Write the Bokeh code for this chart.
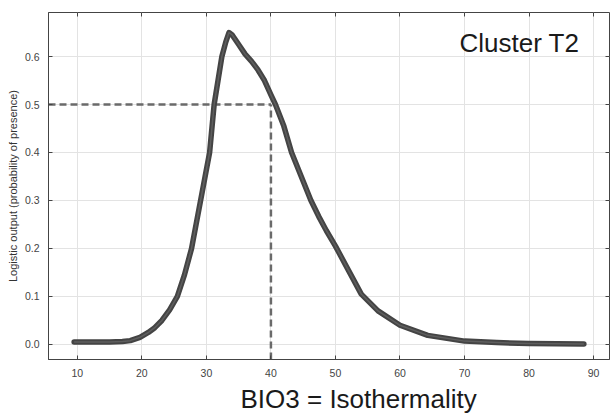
from bokeh.plotting import figure
from bokeh.models import (Range1d, FixedTicker, PrintfTickFormatter, LinearAxis, Label, Title,
                          CustomLabelingPolicy)
from bokeh.embed import file_html
from bokeh.resources import INLINE

# Response curve (BIO3 = Isothermality)
bio3 = [9.5, 12, 15, 17, 18.2, 19.7, 21, 22, 23.1, 24.3, 25.5, 26.6, 27.7, 28.4, 29.1, 29.8, 30.5,
        31.2, 31.8, 32.4, 33.0, 33.5, 34, 35, 36, 37, 38, 39, 40, 40.7, 42, 43.2, 44.7, 46.2,
        47.4, 48.6, 50, 52, 54, 56.6, 60, 64.3, 70, 75, 80, 88.5]
prob = [0.005, 0.005, 0.005, 0.006, 0.008, 0.015, 0.025, 0.035, 0.05, 0.072, 0.10, 0.145, 0.20, 0.25,
        0.30, 0.35, 0.40, 0.50, 0.55, 0.60, 0.63, 0.65, 0.645, 0.625, 0.605, 0.59, 0.572, 0.55, 0.52,
        0.50, 0.455, 0.40, 0.35, 0.30, 0.267, 0.237, 0.205, 0.155, 0.105, 0.07, 0.04, 0.019, 0.007,
        0.004, 0.002, 0.001]

threshold_x = 40
threshold_y = 0.5

x_ticks = [10, 20, 30, 40, 50, 60, 70, 80, 90]
y_ticks = [0.0, 0.1, 0.2, 0.3, 0.4, 0.5, 0.6]

x_start, x_end = 5.53, 92.47
y_start, y_end = -0.0313, 0.6917

SANS = "'Liberation Sans', Arial, sans-serif"

p = figure(width=613, height=419, output_backend="svg", toolbar_location=None,
           x_range=Range1d(x_start, x_end), y_range=Range1d(y_start, y_end),
           min_border_left=48, min_border_top=12, min_border_right=1, min_border_bottom=60)
p.background_fill_color = "white"
p.border_fill_color = "white"
p.outline_line_color = "#444444"
p.outline_line_width = 1

xt = FixedTicker(ticks=x_ticks, minor_ticks=[])
yt = FixedTicker(ticks=y_ticks, minor_ticks=[])

for ax in p.xaxis:
    ax.ticker = xt
    ax.major_tick_in = 4
    ax.major_tick_out = 0
    ax.minor_tick_line_color = None
    ax.axis_line_color = "#444444"
    ax.major_tick_line_color = "#444444"
    ax.major_label_text_font = SANS
    ax.major_label_text_font_size = "10.5px"
    ax.major_label_text_color = "#444444"
    ax.major_label_standoff = 9

for ax in p.yaxis:
    ax.ticker = yt
    ax.formatter = PrintfTickFormatter(format="%.1f")
    ax.major_tick_in = 4
    ax.major_tick_out = 0
    ax.minor_tick_line_color = None
    ax.axis_line_color = "#444444"
    ax.major_tick_line_color = "#444444"
    ax.major_label_text_font = SANS
    ax.major_label_text_font_size = "10.5px"
    ax.major_label_text_color = "#444444"
    ax.major_label_standoff = 9
    ax.axis_label = "Logistic output (probability of presence)"
    ax.axis_label_text_font = SANS
    ax.axis_label_text_font_style = "normal"
    ax.axis_label_text_font_size = "11px"
    ax.axis_label_text_color = "#333333"
    ax.axis_label_standoff = 3

hide_labels = CustomLabelingPolicy(code="for (const i of indices) { indices.unset(i) }\nreturn indices")
for loc, tick in (("above", xt), ("right", yt)):
    ax = LinearAxis(ticker=tick, major_tick_in=4, major_tick_out=0,
                    major_label_text_font_size="1px", major_label_standoff=0,
                    major_label_policy=hide_labels,
                    axis_line_color=None, major_tick_line_color="#444444",
                    minor_tick_line_color=None)
    p.add_layout(ax, loc)

p.xgrid.ticker = xt
p.ygrid.ticker = yt
p.grid.grid_line_color = "#e3e3e3"
p.grid.grid_line_width = 1

# threshold guide lines
p.line([x_start, threshold_x], [threshold_y, threshold_y], line_color="#6a6a6a",
       line_width=2.5, line_dash="7 4")
p.line([threshold_x, threshold_x], [y_start, threshold_y], line_color="#6a6a6a",
       line_width=2.5, line_dash="7 4")

# response curve (band of replicates)
p.line(bio3, prob, line_color="#444444", line_width=5.5, line_join="round", line_cap="round")
p.line(bio3, prob, line_color="#5e5e5e", line_width=1.5, line_join="round")

p.add_layout(Label(x=87.8, y=0.629, text="Cluster T2", text_align="right",
                   text_baseline="middle", text_font=SANS, text_font_size="26px",
                   text_color="#1a1a1a"))

p.add_layout(Title(text="BIO3 = Isothermality", align="left", offset=192, standoff=4,
                   text_font=SANS, text_font_size="26px", text_font_style="normal",
                   text_color="#1a1a1a"), "below")

open("out.html", "w").write(file_html(p, INLINE))
